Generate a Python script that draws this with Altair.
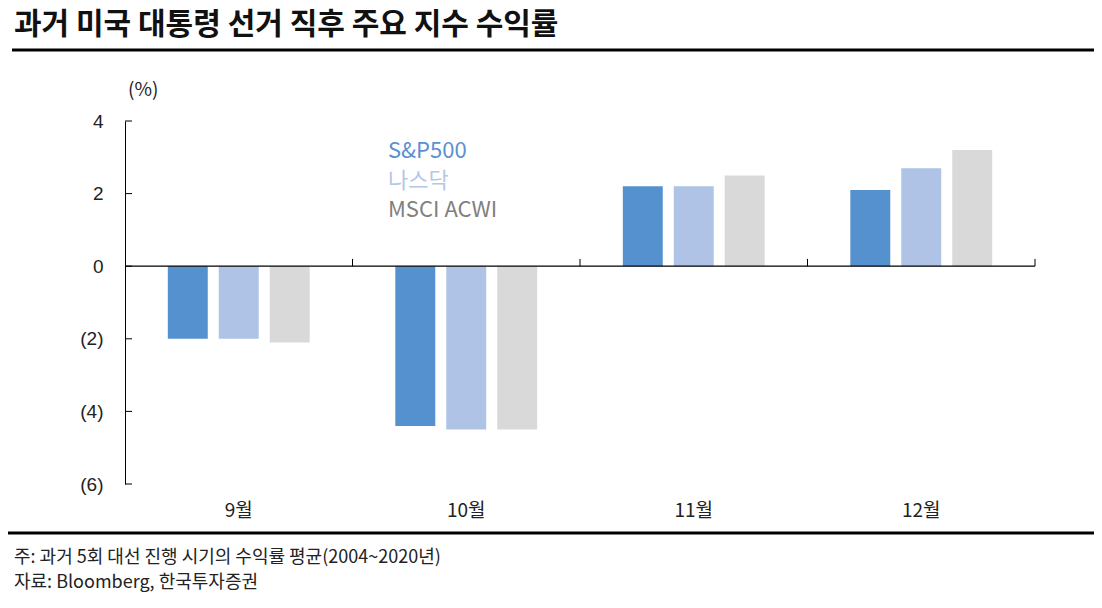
import altair as alt
import pandas as pd

months = ["9월", "10월", "11월", "12월"]
series = ["S&P500", "나스닥", "MSCI ACWI"]
sp500 = [-2.0, -4.4, 2.2, 2.1]
nasdaq = [-2.0, -4.5, 2.2, 2.7]
msci = [-2.1, -4.5, 2.5, 3.2]
bar_colors = ["#5591CE", "#AEC3E5", "#D9D9D9"]
legend_colors = ["#5B8FD0", "#B4C7E7", "#808080"]
y_ticks = [-6, -4, -2, 0, 2, 4]

title = "과거 미국 대통령 선거 직후 주요 지수 수익률"
note1 = "주: 과거 5회 대선 진행 시기의 수익률 평균(2004~2020년)"
note2 = "자료: Bloomberg, 한국투자증권"

rows = []
for s, vals in zip(series, [sp500, nasdaq, msci]):
    for m, v in zip(months, vals):
        rows.append({"month": m, "series": s, "value": v})
df = pd.DataFrame(rows)

KFONT = "Noto Sans CJK KR"
NFONT = "Liberation Sans"
W, H = 910, 363

yscale = alt.Scale(domain=[-6, 4], nice=False, zero=False)
xscale = alt.Scale(domain=months, paddingInner=0, paddingOuter=0)

bars = alt.Chart(df).mark_bar().encode(
    x=alt.X("month:N", sort=months, scale=xscale,
            axis=alt.Axis(title=None, domain=False, ticks=False, labelAngle=0,
                          labelFont=KFONT, labelFontSize=19, labelColor="#222",
                          labelPadding=17)),
    xOffset=alt.XOffset("series:N", sort=series,
                        scale=alt.Scale(domain=series, paddingInner=0.216, paddingOuter=0.84)),
    y=alt.Y("value:Q", scale=yscale,
            axis=alt.Axis(title=None, values=y_ticks, ticks=False, grid=False,
                          domainColor="#000", domainWidth=1,
                          labelFont=NFONT, labelFontSize=19, labelColor="#222",
                          labelPadding=22,
                          labelExpr="datum.value < 0 ? '(' + abs(datum.value) + ')' : datum.label")),
    color=alt.Color("series:N", sort=series,
                    scale=alt.Scale(domain=series, range=bar_colors), legend=None),
)

zero = alt.Chart(pd.DataFrame({"z": [0]})).mark_rule(color="#000", strokeWidth=1.3).encode(
    y=alt.Y("z:Q", scale=yscale))

ytick_df = pd.DataFrame({"t": y_ticks})
yticks = alt.Chart(ytick_df).mark_rule(color="#000", strokeWidth=1).encode(
    y=alt.Y("t:Q", scale=yscale), x=alt.value(0), x2=alt.value(7))

xtick_df = pd.DataFrame({"month": months, "y0": [0] * 4, "y1": [0.2] * 4})
xticks = alt.Chart(xtick_df).mark_rule(color="#000", strokeWidth=1).encode(
    x=alt.X("month:N", sort=months, scale=xscale, bandPosition=1),
    y=alt.Y("y0:Q", scale=yscale), y2="y1:Q")


def txt(s, x, y, size, weight="normal", color="#222", font=KFONT):
    return alt.Chart(pd.DataFrame({"t": [s]})).mark_text(
        align="left", baseline="middle", font=font, fontSize=size, fontWeight=weight, color=color
    ).encode(x=alt.value(x), y=alt.value(y), text="t:N")


def hline(x1, x2, y, w):
    return alt.Chart(pd.DataFrame({"a": [0]})).mark_rule(color="#000", strokeWidth=w).encode(
        x=alt.value(x1), x2=alt.value(x2), y=alt.value(y))


legend_layers = [
    txt(s, 263, 30 + i * 29.5, 22, color=c)
    for i, (s, c) in enumerate(zip(series, legend_colors))
]

chart = alt.layer(
    bars, zero, yticks, xticks, *legend_layers,
    txt(title, -111, -96, 30, "bold", "#111"),
    hline(-113, 969, -71, 3),
    txt("(%)", 3, -31, 19, color="#222"),
    hline(-117, 969, 412, 3),
    txt(note1, -111, 437, 18),
    txt(note2, -111, 462, 18),
).properties(
    width=W, height=H,
    background="white",
    padding={"left": 117, "top": 113, "right": 59, "bottom": 116},
    autosize=alt.AutoSizeParams(type="none"),
).configure_view(strokeWidth=0, stroke="transparent")

chart.save("out.html", embed_options={"renderer": "svg", "actions": False})
